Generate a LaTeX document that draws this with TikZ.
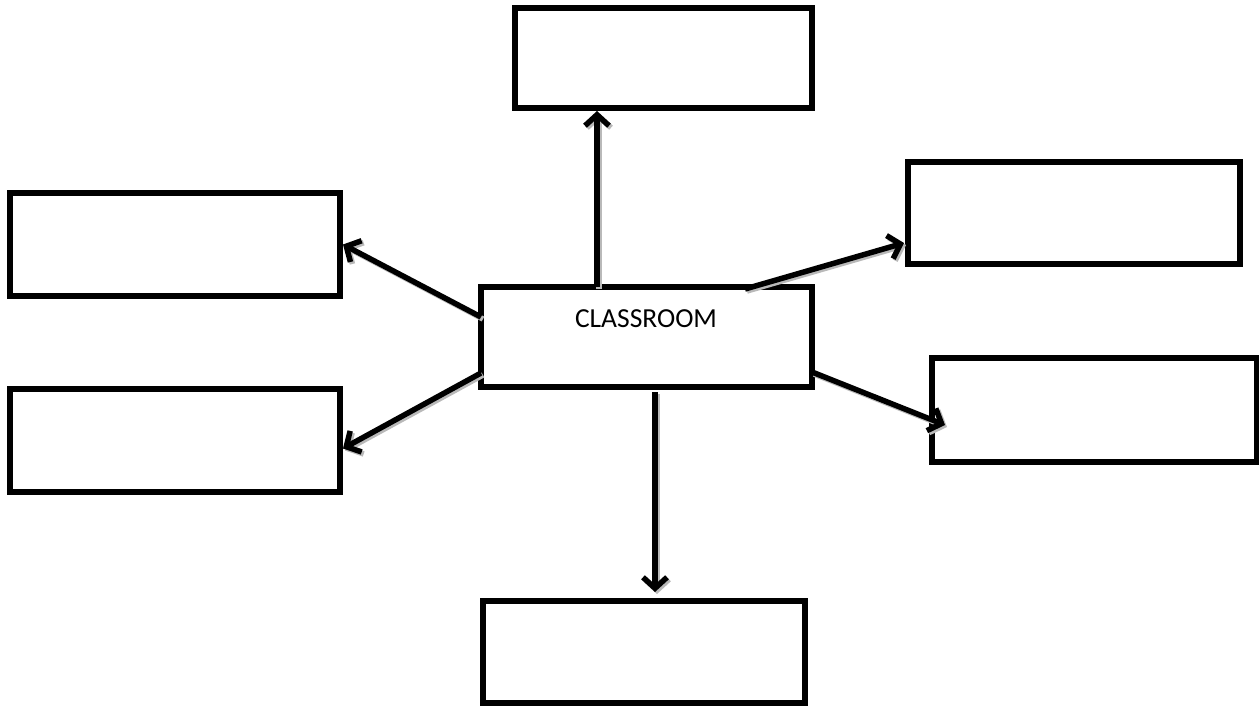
\documentclass[tikz,border=0pt]{standalone}
\usepackage{fontspec}
\setmainfont{Carlito}
\usetikzlibrary{arrows.meta}

\tikzset{
  box/.style={draw,line width=5.5pt,inner sep=0pt,outer sep=0pt},
  link/.style={line width=5.5pt,-{Straight Barb[length=11pt,width=24pt,line width=5.5pt]}}
}

% the six arrows, drawn once as shadow and once in black
\newcommand\roomlinks{
  \draw[link] ([xshift=116pt]room.north west) -- ([xshift=82pt,yshift=-3pt]top.south west);
  \draw[link] ([yshift=20pt]room.west) -- ([xshift=3pt]left1.east);
  \draw[link] ([yshift=-36pt]room.west) -- ([xshift=3pt,yshift=-8pt]left2.east);
  \draw[link] ([xshift=264pt,yshift=-2pt]room.north west) -- ([xshift=-4pt,yshift=-30pt]right1.west);
  \draw[link] ([yshift=-35pt]room.east) -- ([xshift=13pt,yshift=-15pt]right2.west);
  \draw[link] ([xshift=174pt,yshift=-5pt]room.south west) -- ([xshift=11pt,yshift=9pt]bottom.north);
}

\begin{document}
\begin{tikzpicture}[x=1pt,y=-1pt]
  \useasboundingbox (0,0) rectangle (1259,705);
  \node[box,minimum width=331pt,minimum height=100pt] (room) at (646.5,337) {};
  \node at (646,319) {\fontsize{27.5}{32}\selectfont CLASSROOM};
  \node[box,minimum width=297pt,minimum height=100pt] (top) at (663.5,58) {};
  \node[box,minimum width=330pt,minimum height=103pt] (left1) at (175,244.5) {};
  \node[box,minimum width=330pt,minimum height=103pt] (left2) at (175,440.5) {};
  \node[box,minimum width=332pt,minimum height=102pt] (right1) at (1074,213) {};
  \node[box,minimum width=325pt,minimum height=104pt] (right2) at (1094.5,410) {};
  \node[box,minimum width=322pt,minimum height=102pt] (bottom) at (644,652) {};
  \begin{scope}[transform canvas={shift={(2pt,-2pt)}},gray!55]
    \roomlinks
  \end{scope}
  \roomlinks
\end{tikzpicture}
\end{document}
